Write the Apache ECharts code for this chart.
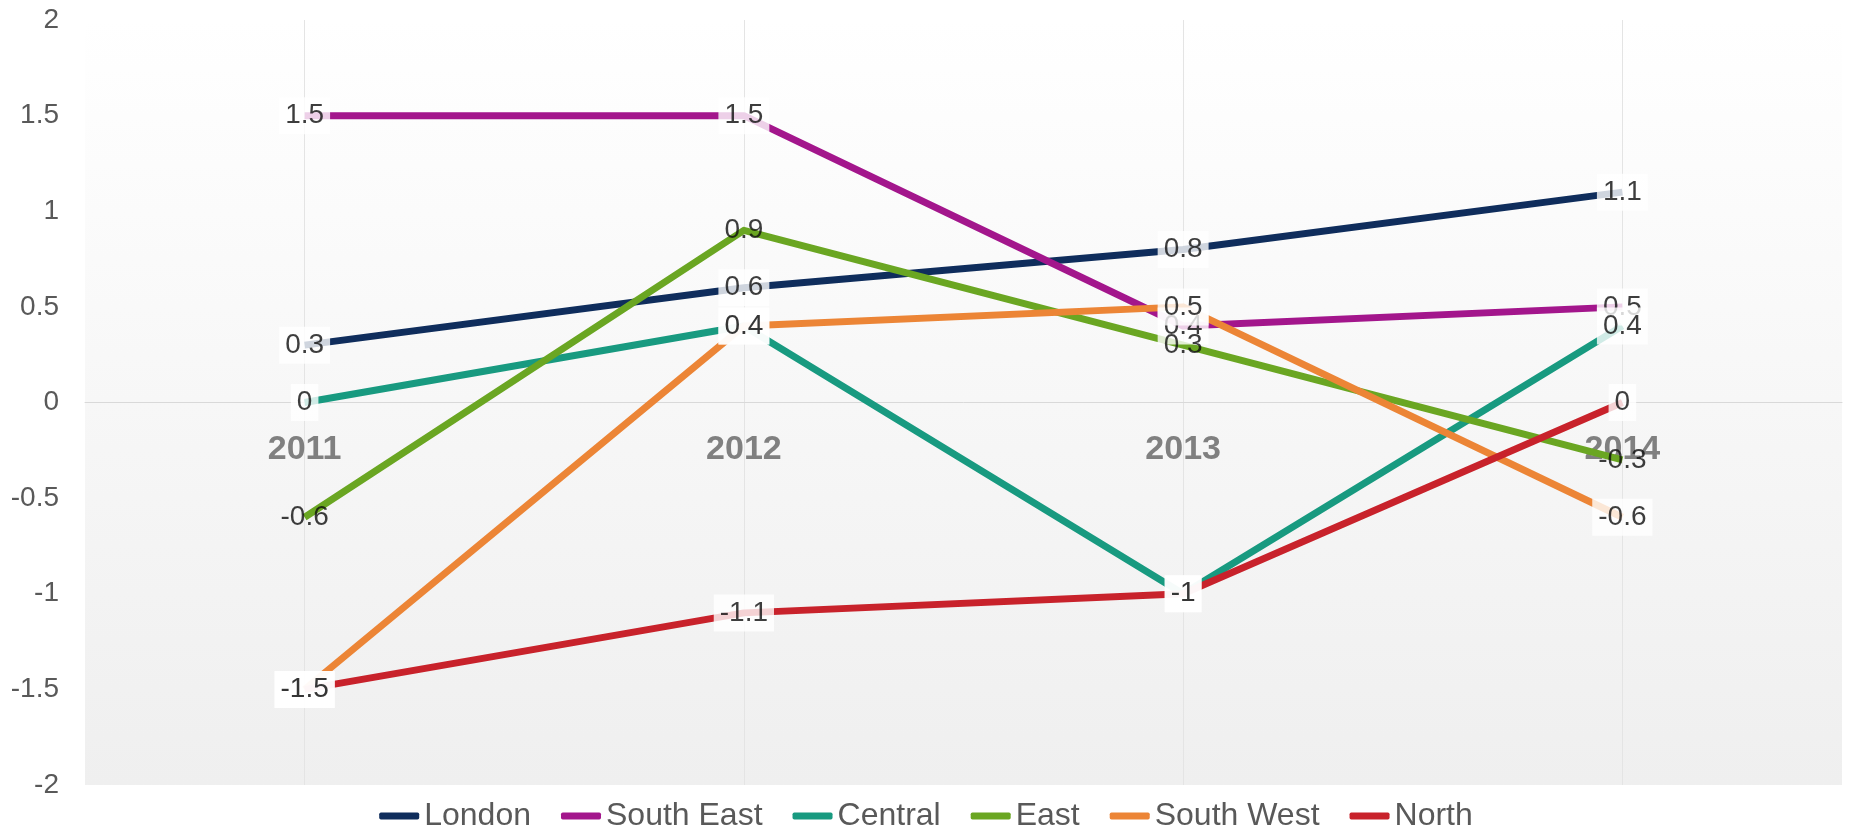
<!DOCTYPE html>
<html>
<head>
<meta charset="utf-8">
<title>Regional index 2011–2014</title>
<script src="https://cdn.jsdelivr.net/npm/echarts@6/dist/echarts.min.js"></script>
<style>
  html, body { margin: 0; padding: 0; background: #ffffff; }
  #chart { width: 1852px; height: 832px; }
</style>
</head>
<body>
<div id="chart"></div>
<script>
// Years on the category axis
const years = ['2011', '2012', '2013', '2014'];

// Values per region
const london    = [0.3, 0.6, 0.8, 1.1];
const southEast = [1.5, 1.5, 0.4, 0.5];
const central   = [0, 0.4, -1, 0.4];
const east      = [-0.6, 0.9, 0.3, -0.3];
const southWest = [-1.5, 0.4, 0.5, -0.6];
const north     = [-1.5, -1.1, -1, 0];

// Value axis range and step
const yMin = -2;
const yMax = 2;
const yStep = 0.5;

const regions = [
  { name: 'London',     values: london,    color: '#0f2d5c', boxed: true },
  { name: 'South East', values: southEast, color: '#a3168c', boxed: true },
  { name: 'Central',    values: central,   color: '#189a80', boxed: true },
  { name: 'East',       values: east,      color: '#6aa622', boxed: false },
  { name: 'South West', values: southWest, color: '#ec8536', boxed: true },
  { name: 'North',      values: north,     color: '#c8222b', boxed: true }
];

const FONT = '"Liberation Sans", Arial, sans-serif';

// Plot box
const GRID_TOP = 20;
const GRID_BOTTOM = 47;
const CHART_H = 832;
const plotH = CHART_H - GRID_TOP - GRID_BOTTOM;
// Lift the year axis (line and labels) from the plot bottom up to the zero line
const zeroLift = -plotH * (0 - yMin) / (yMax - yMin);

// Lines first, then a label layer on top so every value box sits above all lines
const lineSeries = regions.map(r => ({
  name: r.name,
  type: 'line',
  data: r.values,
  z: 2,
  symbol: 'none',
  silent: true,
  lineStyle: { color: r.color, width: 7, cap: 'butt', join: 'round' },
  itemStyle: { color: r.color },
  emphasis: { disabled: true }
}));

const labelSeries = regions.map(r => ({
  name: r.name + ' values',
  type: 'scatter',
  data: r.values,
  z: 5,
  symbol: 'circle',
  symbolSize: 1,
  silent: true,
  itemStyle: { color: 'rgba(0,0,0,0)' },
  emphasis: { disabled: true },
  label: {
    show: true,
    position: 'inside',
    formatter: p => String(p.value),
    fontFamily: FONT,
    fontSize: 28,
    color: '#0d0d0d',
    backgroundColor: r.boxed ? '#ffffff' : 'transparent',
    padding: [5, 6, 4, 6]
  }
}));

const chart = echarts.init(document.getElementById('chart'), null, { renderer: 'canvas' });

chart.setOption({
  animation: false,
  backgroundColor: '#ffffff',
  color: regions.map(r => r.color),
  grid: {
    left: 85,
    right: 10,
    top: GRID_TOP,
    bottom: GRID_BOTTOM,
    show: true,
    borderWidth: 0,
    backgroundColor: {
      type: 'linear', x: 0, y: 0, x2: 0, y2: 1,
      colorStops: [
        { offset: 0, color: '#ffffff' },
        { offset: 1, color: '#efefef' }
      ]
    }
  },
  legend: {
    data: regions.map(r => r.name),
    left: 'center',
    top: 795,
    itemGap: 30,
    itemWidth: 40,
    itemHeight: 7,
    icon: 'roundRect',
    selectedMode: false,
    textStyle: { fontFamily: FONT, fontSize: 32, color: '#595959' }
  },
  xAxis: {
    type: 'category',
    data: years,
    boundaryGap: true,
    offset: zeroLift,
    axisLine: { show: true, onZero: false, lineStyle: { color: '#d9d9d9', width: 1 } },
    axisTick: { show: false, alignWithLabel: true },
    splitLine: { show: true, alignWithLabel: true, lineStyle: { color: '#e4e4e4', width: 1 } },
    axisLabel: {
      margin: 30,
      fontFamily: FONT,
      fontSize: 34,
      fontWeight: 'bold',
      color: '#808080'
    }
  },
  yAxis: {
    type: 'value',
    min: yMin,
    max: yMax,
    interval: yStep,
    axisLine: { show: false },
    axisTick: { show: false },
    splitLine: { show: false },
    axisLabel: {
      margin: 26,
      fontFamily: FONT,
      fontSize: 28,
      color: '#595959'
    }
  },
  series: lineSeries.concat(labelSeries)
});
</script>
</body>
</html>
